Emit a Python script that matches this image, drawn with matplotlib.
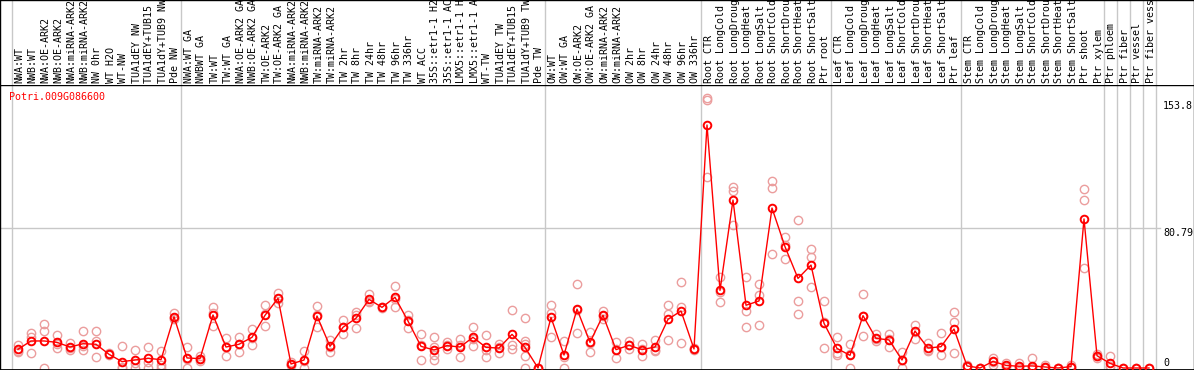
import matplotlib
matplotlib.use("Agg")
import matplotlib.pyplot as plt

gene_name = "Potri.009G086600"

sample_labels = [
    "NWA:WT", "NWB:WT", "NWA:OE-ARK2", "NWB:OE-ARK2", "NWA:miRNA-ARK2", "NWB:miRNA-ARK2",
    "NW 0hr", "WT H2O", "WT-NW", "TUA1dEY NW", "TUA1dEY+TUB15 NW", "TUA1dY+TUB9 NW", "Pde NW",
    "NWA:WT GA", "NWBWT GA", "TW:WT", "TW:WT GA", "NWA:OE-ARK2 GA", "NWB:OE-ARK2 GA",
    "TW:OE-ARK2", "TW:OE-ARK2 GA", "NWA:miRNA-ARK2", "NWB:miRNA-ARK2", "TW:miRNA-ARK2",
    "TW:miRNA-ARK2", "TW 2hr", "TW 8hr", "TW 24hr", "TW 48hr", "TW 96hr", "TW 336hr", "WT ACC",
    "35S::etr1-1 H2O", "35S::etr1-1 ACC", "LMX5::etr1-1 H2O", "LMX5::etr1-1 ACC", "WT-TW",
    "TUA1dEY TW", "TUA1dEY+TUB15 TW", "TUA1dY+TUB9 TW", "Pde TW",
    "OW:WT", "OW:WT GA", "OW:OE-ARK2", "OW:OE-ARK2 GA", "OW:miRNA-ARK2", "OW:miRNA-ARK2",
    "OW 2hr", "OW 8hr", "OW 24hr", "OW 48hr", "OW 96hr", "OW 336hr",
    "Root CTR", "Root LongCold", "Root LongDrought", "Root LongHeat", "Root LongSalt",
    "Root ShortCold", "Root ShortDrought", "Root ShortHeat", "Root ShortSalt", "Ptr root",
    "Leaf CTR", "Leaf LongCold", "Leaf LongDrought", "Leaf LongHeat", "Leaf LongSalt",
    "Leaf ShortCold", "Leaf ShortDrought", "Leaf ShortHeat", "Leaf ShortSalt", "Ptr leaf",
    "Stem CTR", "Stem LongCold", "Stem LongDrought", "Stem LongHeat", "Stem LongSalt",
    "Stem ShortCold", "Stem ShortDrought", "Stem ShortHeat", "Stem ShortSalt", "Ptr shoot",
    "Ptr xylem", "Ptr phloem", "Ptr fiber", "Ptr vessel", "Ptr fiber vessel",
]

group_sizes = [13, 28, 12, 10, 10, 11, 1, 1, 1, 1]

mean_values = [
    10.8, 15.6, 15.6, 14.8, 12.1, 14.0, 13.7, 7.9, 3.7, 4.6, 5.6, 4.8, 29.6,
    5.8, 5.4, 30.6, 12.1, 13.7, 17.7, 30.4, 40.2, 2.3, 4.6, 30.0, 12.5, 23.5, 28.7,
    39.6, 35.0, 40.8, 27.1, 12.5, 10.4, 12.9, 12.1, 17.7, 11.9, 11.5, 19.4, 11.9, 0.0,
    29.2, 7.5, 34.0, 14.8, 30.4, 10.6, 13.1, 10.6, 12.1, 28.1, 32.9, 11.0,
    140.2, 44.8, 96.9, 36.2, 38.7, 92.3, 70.0, 51.7, 59.4, 25.8,
    11.3, 7.3, 30.2, 17.1, 16.2, 4.6, 21.3, 11.5, 12.3, 22.5,
    1.2, 0.0, 3.8, 1.5, 1.0, 1.2, 0.6, 0.0, 0.8, 86.0, 7.1,
    2.7, 0.0, 0.0, 0.0,
]

replicate_values = [
    [13.3, 9.4, 10.0], [20.0, 18.0, 8.5], [25.2, 21.2, 0.0], [18.8, 11.3, 14.0],
    [14.2, 10.4, 11.5], [21.2, 10.4, 12.5], [21.2, 15.8, 6.2], [8.5, 7.5],
    [12.5, 0.8, 0.0], [10.2, 0.0, 3.0], [12.1, 0.0, 3.5], [9.6, 1.7, 0.0],
    [31.9, 29.0, 28.0],
    [12.1, 0.0, 5.0], [7.0, 4.0, 5.2], [35.2, 24.2, 32.0], [17.3, 6.9, 12.0],
    [17.9, 9.2, 14.0], [22.5, 13.1, 17.5], [36.3, 24.0, 31.0], [43.5, 37.3, 40.0],
    [3.5, 1.5, 2.0], [9.8, 0.0, 4.0], [35.8, 23.8, 30.5], [16.2, 9.0, 12.0],
    [27.7, 19.4, 23.5], [32.5, 23.1, 30.5], [42.5, 37.9, 38.5], [35.3, 34.5],
    [47.3, 35.0, 40.0], [30.6, 23.3, 27.5], [19.4, 4.4, 13.5], [17.7, 7.5, 4.6, 12.0],
    [15.0, 10.8, 13.5], [16.7, 6.3, 13.0], [23.5, 12.9, 17.0], [18.8, 6.3, 10.5],
    [13.8, 8.8, 12.0], [33.3, 13.1, 11.2], [28.7, 15.8, 6.9, 0.0, 14.0], [0.0, 0.0],
    [36.3, 31.9, 18.1], [15.8, 0.0, 6.5], [48.5, 20.2, 33.5], [20.6, 9.2, 14.5],
    [33.1, 30.0, 28.0], [15.0, 5.6, 11.0], [15.4, 10.8, 13.5], [13.8, 6.7, 11.0],
    [16.2, 9.6, 10.5], [36.3, 31.2, 16.2], [49.4, 35.4, 14.4], [10.5, 11.5],
    [156.0, 154.6, 110.0], [52.7, 37.9, 44.0], [104.2, 102.3, 82.5], [52.5, 33.1, 23.5],
    [48.3, 42.3, 24.6], [107.9, 103.7, 65.8], [75.8, 62.9, 71.0], [85.4, 38.5, 31.2],
    [68.7, 63.8, 46.7], [38.5, 26.7, 11.5],
    [17.7, 8.5, 7.5], [13.8, 0.0, 8.0], [42.7, 18.3, 30.0], [19.4, 15.8, 16.5],
    [19.4, 12.1, 17.0], [9.2, 0.0, 4.5], [24.8, 16.5, 21.0], [14.4, 9.6, 10.5],
    [20.2, 7.3, 12.0], [32.3, 26.5, 8.5],
    [2.0, 0.5, 1.0], [0.0, 0.0], [6.0, 1.9, 3.5], [3.1, 1.0, 0.5], [3.1, 0.0, 0.5],
    [6.0, 0.0, 0.5], [1.5, 0.3, 0.0], [0.0, 0.0], [1.5, 0.5, 0.0], [103.3, 96.9, 57.5],
    [8.1, 6.0, 7.0],
    [6.9, 0.5, 1.0], [0.0], [0.0], [0.0],
]

scale_values = [153.8, 80.79, 0]
scale_labels = ["153.8", "80.79", "0"]

# layout, in pixels
FIG_W, FIG_H = 1194, 370
LABEL_H = 85
CELL_W = 13
FIRST_CENTER = 18
PX_PER_UNIT = 1.733
ZERO_OFFSET = 2

GRAY = "#c8c8c8"
PINK = "#eb9d9d"
MONO = "DejaVu Sans Mono"


def px_to_x(px):
    return (px - FIRST_CENTER) / CELL_W


def draw_group_lines(ax):
    edge = 0
    ax.axvline(edge - 0.5, color=GRAY, lw=1, zorder=0)
    for size in group_sizes:
        edge += size
        ax.axvline(edge - 0.5, color=GRAY, lw=1, zorder=0)


fig = plt.figure(figsize=(FIG_W / 100, FIG_H / 100), dpi=100)
plot_h = FIG_H - LABEL_H
ax = fig.add_axes([0, 0, 1, plot_h / FIG_H])
ax_lab = fig.add_axes([0, plot_h / FIG_H, 1, LABEL_H / FIG_H])

x_lim = (px_to_x(0), px_to_x(FIG_W))
for a in (ax, ax_lab):
    a.set_xlim(*x_lim)
    a.set_xticks([])
    a.set_yticks([])
    for side in a.spines:
        a.spines[side].set_color("black")
        a.spines[side].set_linewidth(1.0)
ax.set_ylim(-ZERO_OFFSET / PX_PER_UNIT, (plot_h - ZERO_OFFSET) / PX_PER_UNIT)
ax.spines["bottom"].set_linewidth(2.0)
ax_lab.set_ylim(0, LABEL_H)
ax_lab.spines["bottom"].set_visible(False)

draw_group_lines(ax)
draw_group_lines(ax_lab)
ax.axhline(scale_values[1], xmin=0, xmax=1160 / FIG_W, color=GRAY, lw=1, zorder=0)

xs = list(range(len(mean_values)))

for i, reps in enumerate(replicate_values):
    ax.plot([i] * len(reps), reps, "o", mfc="none", mec=PINK, ms=6, mew=1.0, zorder=2)

ax.plot(xs, mean_values, color="red", lw=1, marker="o", mfc="none", mec="red",
        ms=5.5, mew=1.4, zorder=3)

# long names run off the top edge, as in the original
for i, label in enumerate(sample_labels):
    ax_lab.text(i + 1.5 / CELL_W, 2, label, rotation=90, ha="center", va="bottom",
                family=MONO, fontsize=7.2, color="black")

for value, label in zip(scale_values, scale_labels):
    ax.text(px_to_x(1163), value, label, ha="left", va="bottom" if value == 0 else "top",
            family=MONO, fontsize=7.2, color="black")

fig.text(9 / FIG_W, 1 - 97 / FIG_H, gene_name, ha="left", va="center",
         family=MONO, fontsize=7.2, color="red")

fig.savefig("out.png", dpi=100)
